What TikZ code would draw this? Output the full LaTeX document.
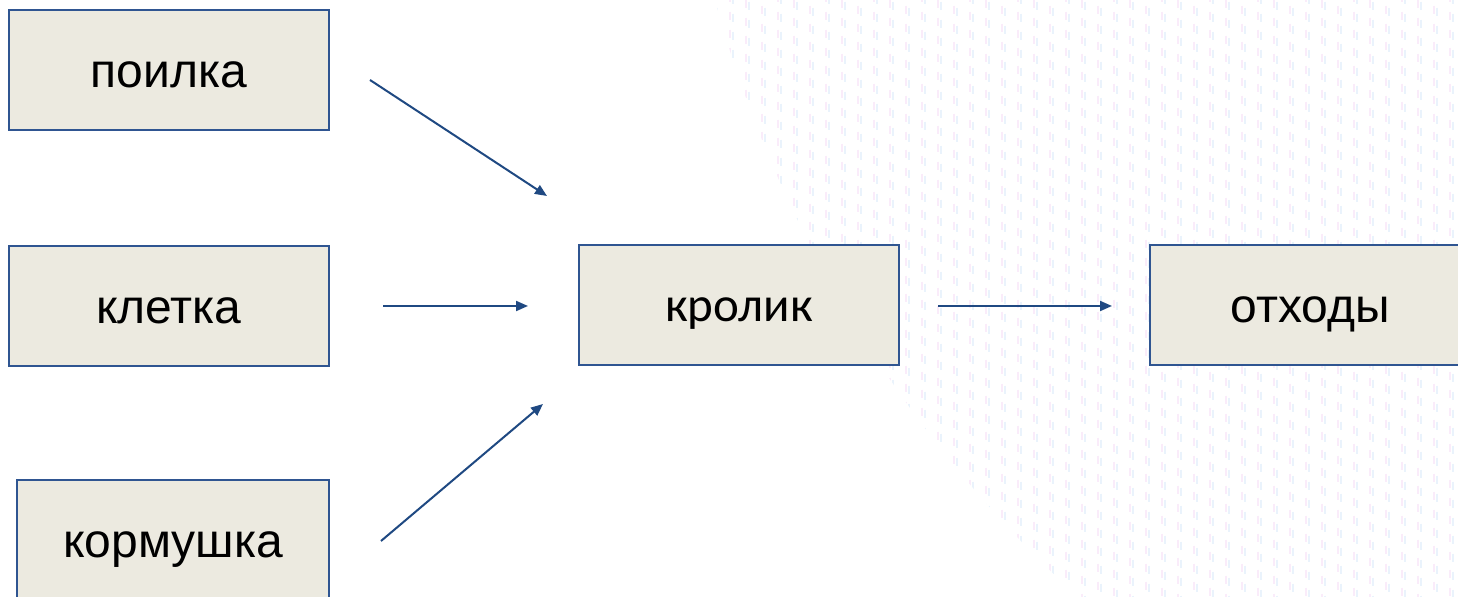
\documentclass[tikz,border=0pt]{standalone}
\usepackage{fontspec}
\setmainfont{Liberation Sans}
\newfontfamily\calibfont{Carlito}
\usetikzlibrary{arrows.meta}
\definecolor{boxfill}{RGB}{236,234,224}
\definecolor{boxline}{RGB}{47,85,145}
\definecolor{arrowcol}{RGB}{31,73,130}
\definecolor{dashpink}{RGB}{250,236,250}
\definecolor{dashblue}{RGB}{234,243,252}
\tikzset{
  itembox/.style={draw=boxline, line width=1pt, fill=boxfill, minimum width=160pt, minimum height=60pt, inner sep=0pt, text height=17.4pt, text depth=0pt, font=\fontsize{24}{28}\selectfont},
  flow/.style={draw=arrowcol, line width=1pt, -{Triangle[length=6pt,width=5pt]}}
}
\begin{document}
\begin{tikzpicture}[x=0.5pt,y=-0.5pt]
\useasboundingbox (0,0) rectangle (1458,597);
\fill[white] (0,0) rectangle (1458,597);
% faint textured background disc
\begin{scope}
\clip (1935,-332) circle [radius=632pt];
\foreach \i in {0,...,48}{
  \foreach \j in {-1,...,34}{
    \draw[dashpink, line width=0.9pt] ({698+\i*16},{\j*18+mod(\i,3)*6}) -- ++(0,8);
    \draw[dashblue, line width=0.9pt] ({701+\i*16},{\j*18+mod(\i,3)*6+2}) -- ++(0,8);
  }
}
\end{scope}
\node[itembox] (poilka) at (169,70) {поилка};
\node[itembox] (kletka) at (169,306) {клетка};
\node[itembox, minimum width=156pt] (kormushka) at (173,540) {кормушка};
\node[itembox, text height=16.4pt, font=\calibfont\fontsize{24.5}{28}\selectfont] (krolik) at (739,305) {кролик};
\node[itembox] (othody) at (1310,305) {отходы};
\coordinate (a1s) at (370,80);   \coordinate (a1e) at (547,196);
\coordinate (a2s) at (383,306);  \coordinate (a2e) at (528,306);
\coordinate (a3s) at (381,541);  \coordinate (a3e) at (543,404);
\coordinate (a4s) at (938,306);  \coordinate (a4e) at (1112,306);
\draw[flow] (a1s) -- (a1e);
\draw[flow] (a2s) -- (a2e);
\draw[flow] (a3s) -- (a3e);
\draw[flow] (a4s) -- (a4e);
\end{tikzpicture}
\end{document}
